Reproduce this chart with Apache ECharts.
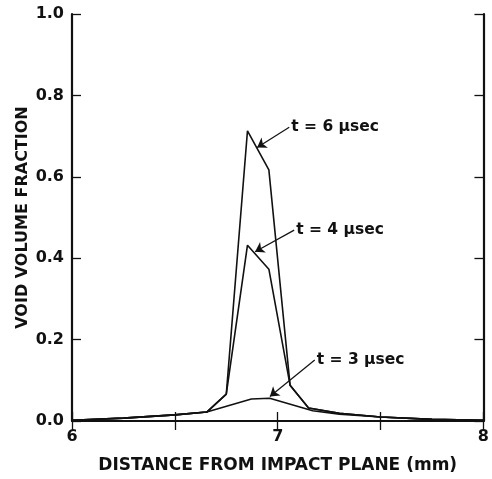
<!DOCTYPE html>
<html>
<head>
<meta charset="utf-8">
<script src="https://cdn.jsdelivr.net/npm/echarts@6/dist/echarts.min.js"></script>
<style>
html,body{margin:0;padding:0;background:#fff;}
#main{width:492px;height:479px;}
</style>
</head>
<body>
<div id="main"></div>
<script>
// distance from impact plane (mm)
var xs = [6.0, 6.25, 6.5, 6.655, 6.75, 6.853, 6.957, 7.06, 7.15, 7.3, 7.5, 7.75, 8.0];
var void6 = [0.002, 0.007, 0.015, 0.022, 0.066, 0.713, 0.617, 0.088, 0.032, 0.019, 0.010, 0.004, 0.002];
var void4 = [0.002, 0.007, 0.015, 0.022, 0.066, 0.432, 0.373, 0.088, 0.032, 0.019, 0.010, 0.004, 0.002];
var xs3 = [6.0, 6.25, 6.5, 6.655, 6.872, 6.961, 7.17, 7.3, 7.5, 7.75, 8.0];
var void3 = [0.002, 0.007, 0.015, 0.022, 0.054, 0.056, 0.025, 0.017, 0.010, 0.004, 0.002];
var labels = ['t = 6 μsec', 't = 4 μsec', 't = 3 μsec'];
var yTicks = [0, 0.2, 0.4, 0.6, 0.8, 1.0];

function pairs(x, y){
    var out = [];
    for(var i=0;i<x.length;i++){ out.push([x[i], y[i]]); }
    return out;
}

var font = 'DejaVu Sans';
var ink = '#111';

// arrow: text anchor -> tip
function note(text, from, to){
    return {
        markLine: {
            silent: true,
            symbol: ['none', 'arrow'],
            symbolSize: 9,
            lineStyle: {color: ink, width: 1.2, type: 'solid'},
            label: {show: false},
            data: [[{coord: from}, {coord: to}]]
        },
        markPoint: {
            silent: true,
            symbol: 'circle',
            symbolSize: 0,
            label: {show: true, position: 'right', distance: 2, formatter: text,
                color: ink, fontFamily: font, fontSize: 15.5, fontWeight: 'bold'},
            data: [{coord: from}]
        }
    };
}

function line(name, data, extra){
    var s = {
        name: name, type: 'line', data: data, symbol: 'none',
        lineStyle: {color: ink, width: 1.6}, z: 3, animation: false
    };
    for(var k in extra){ s[k] = extra[k]; }
    return s;
}

var myChart = echarts.init(document.getElementById('main'));
var option = {
    backgroundColor: '#fff',
    animation: false,
    grid: {left: 72, right: 7, top: 14, bottom: 58},
    xAxis: [
        {
            type: 'value', min: 6, max: 8, interval: 0.5,
            name: 'DISTANCE FROM IMPACT PLANE (mm)', nameLocation: 'middle', nameGap: 36,
            nameTextStyle: {color: ink, fontFamily: font, fontSize: 17, fontWeight: 'bold'},
            axisLine: {lineStyle: {color: ink, width: 2.2}},
            axisTick: {inside: true, length: 9, lineStyle: {color: ink, width: 1.3}},
            axisLabel: {color: ink, fontFamily: font, fontSize: 16, fontWeight: 'bold', margin: 8,
                formatter: function(v){ return (v % 1 === 0) ? String(v) : ''; }},
            splitLine: {show: false}
        },
        {
            type: 'value', position: 'top', min: 6, max: 8, interval: 0.5,
            axisLine: {show: true, lineStyle: {color: ink, width: 2.2}},
            axisTick: {inside: true, length: 9, lineStyle: {color: ink, width: 1.3}},
            axisLabel: {show: false}, splitLine: {show: false}
        }
    ],
    yAxis: [
        {
            type: 'value', min: 0, max: 1, interval: 0.2,
            name: 'VOID VOLUME FRACTION', nameLocation: 'middle', nameGap: 41,
            nameMoveOverlap: false,
            nameTextStyle: {color: ink, fontFamily: font, fontSize: 16, fontWeight: 'bold'},
            axisLine: {show: true, lineStyle: {color: ink, width: 2.2}},
            axisTick: {show: true, inside: true, length: 9, lineStyle: {color: ink, width: 1.3}},
            axisLabel: {color: ink, fontFamily: font, fontSize: 16, fontWeight: 'bold', margin: 8,
                formatter: function(v){ return yTicks.indexOf(+v.toFixed(1)) >= 0 ? v.toFixed(1) : ''; }},
            splitLine: {show: false}
        },
        {
            type: 'value', position: 'right', min: 0, max: 1, interval: 0.2,
            axisLine: {show: true, lineStyle: {color: ink, width: 2.2}},
            axisTick: {show: true, inside: true, length: 9, lineStyle: {color: ink, width: 1.3}},
            axisLabel: {show: false}, splitLine: {show: false}
        }
    ],
    series: [
        line('6', pairs(xs, void6), note(labels[0], [7.056, 0.722], [6.900, 0.672])),
        line('4', pairs(xs, void4), note(labels[1], [7.080, 0.469], [6.890, 0.416])),
        line('3', pairs(xs3, void3), note(labels[2], [7.180, 0.150], [6.962, 0.060]))
    ]
};
myChart.setOption(option);
</script>
</body>
</html>
